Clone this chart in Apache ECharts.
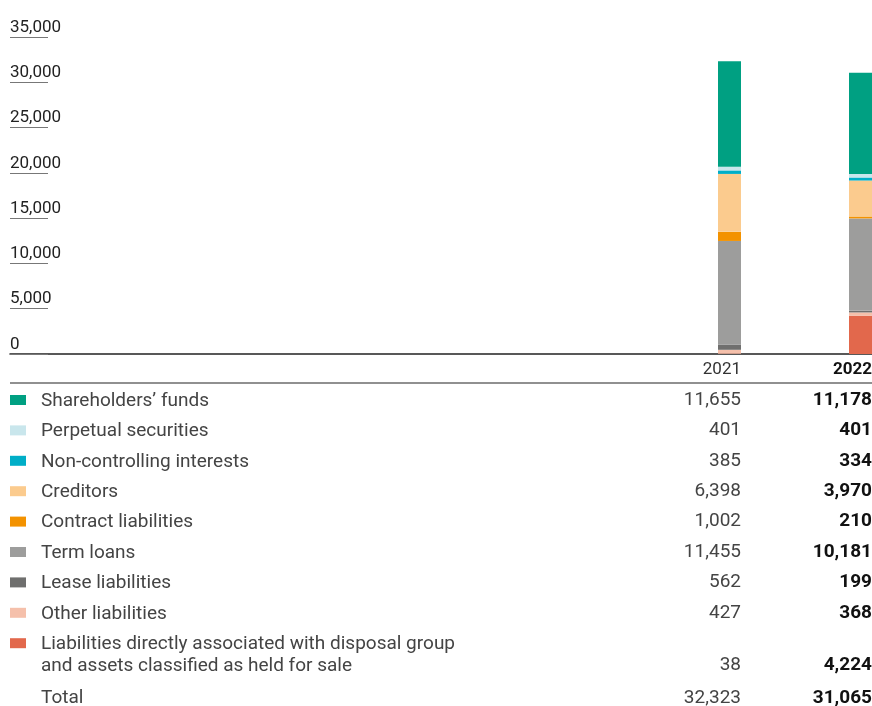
<!DOCTYPE html>
<html>
<head>
<meta charset="utf-8">
<script src="https://cdn.jsdelivr.net/npm/echarts@6/dist/echarts.min.js"></script>
<style>
  html, body { margin: 0; padding: 0; background: #fff; }
  #chart { width: 872px; height: 706px; }
</style>
</head>
<body>
<div id="chart"></div>
<script>
// data
const years = ['2021', '2022'];
const yTicks = [0, 5000, 10000, 15000, 20000, 25000, 30000, 35000];

const shareholdersFunds = [11655, 11178];
const perpetualSecurities = [401, 401];
const nonControlling = [385, 334];
const creditors = [6398, 3970];
const contractLiabilities = [1002, 210];
const termLoans = [11455, 10181];
const leaseLiabilities = [562, 199];
const otherLiabilities = [427, 368];
const disposalGroup = [38, 4224];
const totals = [32323, 31065];

// rows of the table, top to bottom
const rows = [
  { name: "Shareholders’ funds", values: shareholdersFunds, color: '#00a082' },
  { name: 'Perpetual securities', values: perpetualSecurities, color: '#c9e6ec' },
  { name: 'Non-controlling interests', values: nonControlling, color: '#00aec7' },
  { name: 'Creditors', values: creditors, color: '#fbcb8e' },
  { name: 'Contract liabilities', values: contractLiabilities, color: '#f39200' },
  { name: 'Term loans', values: termLoans, color: '#9d9d9c' },
  { name: 'Lease liabilities', values: leaseLiabilities, color: '#6f6f6e' },
  { name: 'Other liabilities', values: otherLiabilities, color: '#f5c0ab' },
  { name: 'Liabilities directly associated with disposal group\nand assets classified as held for sale', values: disposalGroup, color: '#e2684c' }
];

const fmt = v => v.toLocaleString('en-US');
const font = 'Roboto, "Noto Sans", sans-serif';
const textColor = '#444';

let myChart = echarts.init(document.getElementById('chart'));

// bars stacked from the bottom up (reverse of table order)
const series = rows.slice().reverse().map(r => ({
  name: r.name,
  type: 'bar',
  stack: 'total',
  xAxisIndex: 1,
  yAxisIndex: 1,
  barWidth: 23,
  clip: false,
  itemStyle: { color: r.color },
  data: r.values
}));

// table below the chart
const colX = [741, 872];
const valueFont = j => (j === 1 ? 'bold ' : 'normal ') + '19px ' + font;
const graphic = [];
graphic.push({ type: 'line', shape: { x1: 10, y1: 383, x2: 872, y2: 383 }, style: { stroke: '#222', lineWidth: 1.2 } });
years.forEach((y, j) => {
  graphic.push({
    type: 'text', x: colX[j], y: 370,
    style: { text: y, align: 'right', verticalAlign: 'middle', fill: j === 1 ? '#111' : '#333',
      font: (j === 1 ? 'bold ' : 'normal ') + '17px ' + font }
  });
});

let rowY = 400;
rows.forEach((r, i) => {
  const twoLines = r.name.indexOf('\n') >= 0;
  const valueY = twoLines ? rowY + 22 : rowY;
  graphic.push({ type: 'rect', shape: { x: 10, y: rowY - 5, width: 16, height: 10 }, style: { fill: r.color } });
  graphic.push({
    type: 'text', x: 41, y: rowY - 10,
    style: { text: r.name, align: 'left', verticalAlign: 'top', fill: textColor, font: 'normal 19px ' + font, lineHeight: 22 }
  });
  r.values.forEach((v, j) => {
    graphic.push({
      type: 'text', x: colX[j], y: valueY,
      style: { text: fmt(v), align: 'right', verticalAlign: 'middle', fill: j === 1 ? '#111' : textColor, font: valueFont(j) }
    });
  });
  rowY = valueY + (twoLines ? 32 : 30.4);
});
// total row
graphic.push({ type: 'text', x: 41, y: rowY + 1, style: { text: 'Total', align: 'left', verticalAlign: 'middle', fill: textColor, font: 'normal 19px ' + font } });
totals.forEach((v, j) => {
  graphic.push({
    type: 'text', x: colX[j], y: rowY + 1,
    style: { text: fmt(v), align: 'right', verticalAlign: 'middle', fill: j === 1 ? '#111' : textColor, font: valueFont(j) }
  });
});

let option = {
  animation: false,
  textStyle: { fontFamily: font },
  grid: [
    // full width grid: y labels and baseline
    { left: 10, right: 0, top: 37, bottom: 352, containLabel: false },
    // bars: categories sit on the grid edges
    { left: 729.5, right: 11.5, top: 37, bottom: 352, containLabel: false }
  ],
  xAxis: [
    {
      gridIndex: 0, type: 'value', min: 0, max: 1,
      axisLine: { show: true, lineStyle: { color: '#222', width: 1.5 } },
      axisTick: { show: false }, axisLabel: { show: false }, splitLine: { show: false }
    },
    {
      gridIndex: 1, type: 'category', data: years, boundaryGap: false,
      axisLine: { show: false }, axisTick: { show: false }, axisLabel: { show: false }
    }
  ],
  yAxis: [
    {
      gridIndex: 0, type: 'value', min: yTicks[0], max: yTicks[yTicks.length - 1], interval: 5000,
      axisLine: { show: false },
      axisTick: { show: true, inside: true, length: 38, lineStyle: { color: '#777', width: 1 } },
      splitLine: { show: false },
      axisLabel: {
        inside: true, margin: 0, align: 'left', verticalAlign: 'bottom', padding: [0, 0, 1, 0],
        fontSize: 17, color: '#222', fontFamily: font,
        formatter: v => fmt(v)
      }
    },
    {
      gridIndex: 1, type: 'value', min: yTicks[0], max: yTicks[yTicks.length - 1], interval: 5000,
      show: false
    }
  ],
  series: series,
  graphic: graphic
};

myChart.setOption(option);
window.addEventListener('resize', function () { myChart.resize(); });
</script>
</body>
</html>
